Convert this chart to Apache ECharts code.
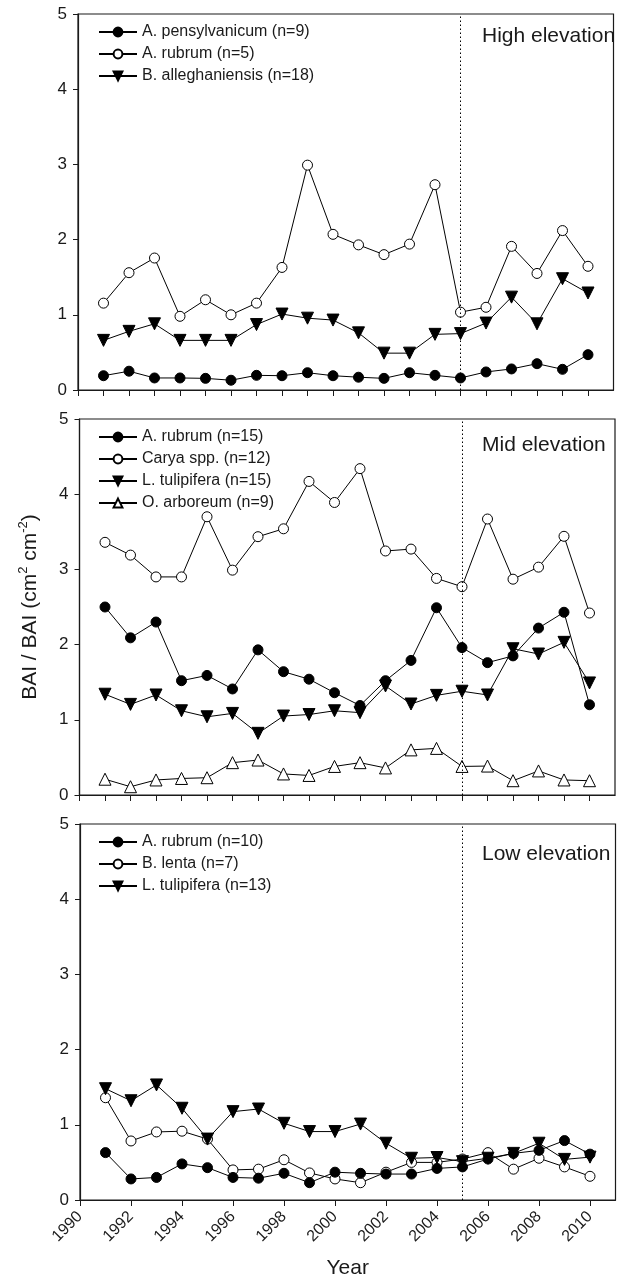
<!DOCTYPE html>
<html>
<head>
<meta charset="utf-8">
<script src="https://cdn.jsdelivr.net/npm/echarts@6/dist/echarts.min.js"></script>
<style>
  html, body { margin: 0; padding: 0; background: #fff; }
  #chart { width: 624px; height: 1281px; }
</style>
</head>
<body>
<div id="chart"></div>
<script>
// years of the BAI ratio series
const years = [1991, 1992, 1993, 1994, 1995, 1996, 1997, 1998, 1999, 2000,
  2001, 2002, 2003, 2004, 2005, 2006, 2007, 2008, 2009, 2010]

// high elevation
const highPens = [0.19, 0.25, 0.16, 0.16, 0.155, 0.13, 0.195, 0.19, 0.23, 0.19,
  0.17, 0.155, 0.23, 0.195, 0.16, 0.24, 0.28, 0.35, 0.275, 0.47]
const highRubrum = [1.155, 1.56, 1.755, 0.98, 1.2, 1.0, 1.155, 1.63, 2.99, 2.07,
  1.93, 1.8, 1.94, 2.73, 1.035, 1.1, 1.91, 1.55, 2.12, 1.645]
const highAlleg = [0.66, 0.78, 0.88, 0.66, 0.66, 0.66, 0.87, 1.01, 0.955, 0.93,
  0.76, 0.49, 0.49, 0.74, 0.75, 0.89, 1.235, 0.88, 1.48, 1.29]

// mid elevation
const midRubrum = [2.5, 2.09, 2.3, 1.52, 1.59, 1.41, 1.93, 1.64, 1.54, 1.36,
  1.19, 1.52, 1.79, 2.49, 1.96, 1.76, 1.85, 2.22, 2.43, 1.2]
const midCarya = [3.36, 3.19, 2.9, 2.9, 3.7, 2.99, 3.435, 3.54, 4.17, 3.89,
  4.34, 3.245, 3.27, 2.88, 2.77, 3.67, 2.87, 3.03, 3.44, 2.42]
const midTulip = [1.34, 1.205, 1.33, 1.12, 1.04, 1.085, 0.82, 1.05, 1.07, 1.12,
  1.095, 1.45, 1.21, 1.325, 1.38, 1.33, 1.945, 1.875, 2.03, 1.49]
const midArbor = [0.21, 0.11, 0.2, 0.22, 0.23, 0.43, 0.465, 0.28, 0.26, 0.38,
  0.43, 0.36, 0.6, 0.62, 0.38, 0.385, 0.19, 0.32, 0.2, 0.19]

// low elevation
const lowRubrum = [0.63, 0.28, 0.3, 0.48, 0.43, 0.3, 0.29, 0.355, 0.23, 0.37,
  0.355, 0.345, 0.345, 0.42, 0.44, 0.545, 0.62, 0.66, 0.79, 0.61]
const lowLenta = [1.36, 0.785, 0.905, 0.915, 0.81, 0.4, 0.41, 0.535, 0.36, 0.28,
  0.23, 0.37, 0.5, 0.5, 0.545, 0.63, 0.41, 0.555, 0.44, 0.315]
const lowTulip = [1.48, 1.32, 1.53, 1.22, 0.81, 1.175, 1.21, 1.02, 0.91, 0.91,
  1.01, 0.755, 0.555, 0.565, 0.51, 0.555, 0.62, 0.755, 0.54, 0.57]

const yearTicksAll = [1990, 1991, 1992, 1993, 1994, 1995, 1996, 1997, 1998, 1999, 2000,
  2001, 2002, 2003, 2004, 2005, 2006, 2007, 2008, 2009, 2010]
const yearTicksEven = [1990, 1992, 1994, 1996, 1998, 2000, 2002, 2004, 2006, 2008, 2010]
const breakYear = 2005
const panelNames = ['High elevation', 'Mid elevation', 'Low elevation']

const FONT = 'Liberation Sans, Arial, sans-serif'
const INK = '#1a1a1a'

const tops = [14, 419, 824]
const lefts = [78, 79.5, 80]
const plotW = 535.5
const plotH = 376

const symbols = {
  filled: { symbol: 'circle', size: 10, fill: '#000' },
  open: { symbol: 'circle', size: 10, fill: '#fff' },
  down: { symbol: 'triangle', size: 12, fill: '#000', rotate: 180 },
  up: { symbol: 'triangle', size: 12, fill: '#fff', rotate: 0 }
}

function makeSeries(name, values, kind, idx, withBreak) {
  const s = symbols[kind]
  const ser = {
    name: name,
    type: 'line',
    xAxisIndex: idx,
    yAxisIndex: idx,
    data: years.map((y, i) => [y, values[i]]),
    symbol: s.symbol,
    symbolSize: s.size,
    symbolRotate: s.rotate || 0,
    showAllSymbol: true,
    lineStyle: { color: '#000', width: 1 },
    itemStyle: { color: s.fill, borderColor: '#000', borderWidth: 1 },
    emphasis: { disabled: true },
    z: kind === 'open' || kind === 'up' ? 3 : 4
  }
  if (withBreak) {
    ser.markLine = {
      silent: true,
      symbol: 'none',
      label: { show: false },
      lineStyle: { color: '#000', type: [1.5, 2.5], width: 1 },
      data: [{ xAxis: breakYear }]
    }
  }
  return ser
}

const panels = [
  [['A. pensylvanicum (n=9)', highPens, 'filled'],
    ['A. rubrum (n=5)', highRubrum, 'open'],
    ['B. alleghaniensis (n=18)', highAlleg, 'down']],
  [['A. rubrum (n=15)', midRubrum, 'filled'],
    ['Carya spp. (n=12)', midCarya, 'open'],
    ['L. tulipifera (n=15)', midTulip, 'down'],
    ['O. arboreum (n=9)', midArbor, 'up']],
  [['A. rubrum (n=10)', lowRubrum, 'filled'],
    ['B. lenta (n=7)', lowLenta, 'open'],
    ['L. tulipifera (n=13)', lowTulip, 'down']]
]

const grid = []
const xAxis = []
const yAxis = []
const legend = []
const series = []
const graphic = []

panels.forEach((list, p) => {
  grid.push({
    left: lefts[p], top: tops[p], width: plotW, height: plotH,
    show: true, borderColor: INK, borderWidth: 1.2, backgroundColor: 'transparent'
  })
  const last = p === 2
  xAxis.push({
    gridIndex: p, type: 'value', min: 1990, max: 2011,
    splitLine: { show: false },
    axisLine: { onZero: false, lineStyle: { color: INK, width: 1.2 } },
    axisTick: {
      show: true, length: 6, lineStyle: { color: INK, width: 1 },
      customValues: last ? yearTicksEven : yearTicksAll
    },
    axisLabel: {
      show: last, customValues: yearTicksEven, rotate: 45, margin: 14,
      fontFamily: FONT, fontSize: 16, color: INK,
      formatter: v => String(v)
    },
    name: last ? 'Year' : '',
    nameLocation: 'middle', nameGap: 58,
    nameTextStyle: { fontFamily: FONT, fontSize: 21, color: INK }
  })
  yAxis.push({
    gridIndex: p, type: 'value', min: 0, max: 5, interval: 1,
    splitLine: { show: false },
    axisLine: { show: true, lineStyle: { color: INK, width: 1.2 } },
    axisTick: { show: true, length: 5, inside: false, lineStyle: { color: INK, width: 1 } },
    axisLabel: { margin: 11, fontFamily: FONT, fontSize: 17, color: INK },
    name: p === 1 ? 'BAI / BAI (cm{sup|2} cm{sup|-2})' : '',
    nameLocation: 'middle', nameGap: 35, nameRotate: 90,
    nameTextStyle: {
      fontFamily: FONT, fontSize: 21, color: INK, lineHeight: 28,
      rich: { sup: { fontFamily: FONT, fontSize: 13, color: INK, verticalAlign: 'top', lineHeight: 14 } }
    }
  })
  legend.push({
    data: list.map(d => d[0]),
    orient: 'vertical', left: 93, top: tops[p] + 5,
    itemWidth: 38, itemHeight: 11, itemGap: 6,
    selectedMode: false,
    textStyle: { fontFamily: FONT, fontSize: 16, color: INK }
  })
  list.forEach((d, i) => series.push(makeSeries(d[0], d[1], d[2], p, i === 0)))
  graphic.push({
    type: 'text', left: 482, top: tops[p] + 12 + p * 4,
    style: { text: panelNames[p], font: '21px ' + FONT, fill: INK }
  })
})

const chart = echarts.init(document.getElementById('chart'))
chart.setOption({
  animation: false,
  backgroundColor: '#fff',
  grid: grid,
  xAxis: xAxis,
  yAxis: yAxis,
  legend: legend,
  series: series,
  graphic: graphic
})
</script>
</body>
</html>
